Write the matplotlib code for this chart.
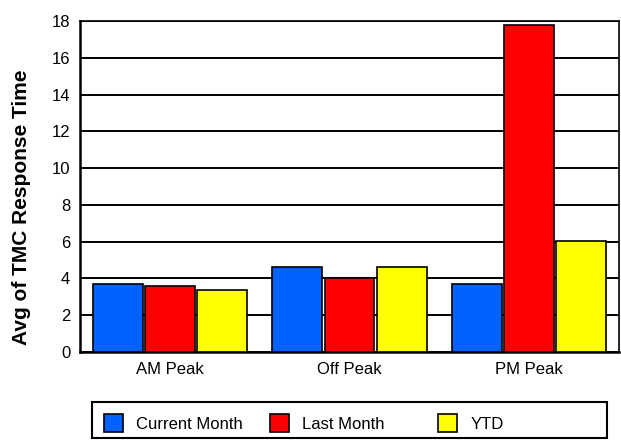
import matplotlib
matplotlib.use("Agg")
import matplotlib.pyplot as plt
from matplotlib.patches import Rectangle
import numpy as np

plt.rcParams['font.family'] = ['Liberation Sans', 'DejaVu Sans']

# dados
periods = ['AM Peak', 'Off Peak', 'PM Peak']
current_month = [3.68, 4.64, 3.68]
last_month = [3.57, 4.00, 17.78]
ytd = [3.35, 4.64, 6.05]

series = [
    ('Current Month', current_month, '#0063FF'),
    ('Last Month', last_month, '#FF0000'),
    ('YTD', ytd, '#FFFF00'),
]

W, H = 621, 440
fig = plt.figure(figsize=(W / 100, H / 100), dpi=100)
ax = fig.add_axes([80 / W, (H - 352) / H, (619 - 80) / W, (352 - 21) / H])

x = np.arange(len(periods))
width = 0.278
step = 0.29
bars = []
for i, (name, vals, color) in enumerate(series):
    b = ax.bar(x + (i - 1) * step, vals, width, color=color,
               edgecolor='black', linewidth=1.2, label=name, zorder=3)
    bars.append(b)

ax.set_xlim(-0.5, 2.5)
ax.set_ylim(0, 18)
ax.set_yticks(np.arange(0, 19, 2))
ax.set_xticks(x)
ax.set_xticklabels(periods)
ax.tick_params(axis='both', length=0, labelsize=12)
ax.tick_params(axis='y', pad=7)
ax.tick_params(axis='x', pad=7)
ax.yaxis.grid(True, color='black', linewidth=1.4, zorder=0)
ax.set_axisbelow(True)
for s in ['left', 'bottom']:
    ax.spines[s].set_linewidth(1.8)
for s in ['top', 'right']:
    ax.spines[s].set_linewidth(1.2)

fig.text(22 / W, (H - 207) / H, 'Avg of TMC Response Time', rotation=90,
         ha='center', va='center', fontsize=15, fontweight='bold')

# caixa da legenda
fig.add_artist(Rectangle((92 / W, (H - 438) / H), (607 - 92) / W, 36 / H,
                         transform=fig.transFigure, facecolor='white',
                         edgecolor='black', linewidth=1.5))
for b, (name, _, _), px in zip(bars, series, [104, 270, 438]):
    fig.legend(handles=[b], labels=[name], loc='center left',
               bbox_to_anchor=(px / W, (H - 423) / H), frameon=False,
               borderpad=0, borderaxespad=0, handlelength=1.15,
               handleheight=1.2, handletextpad=0.8, fontsize=12)

fig.savefig('out.png', dpi=100)
